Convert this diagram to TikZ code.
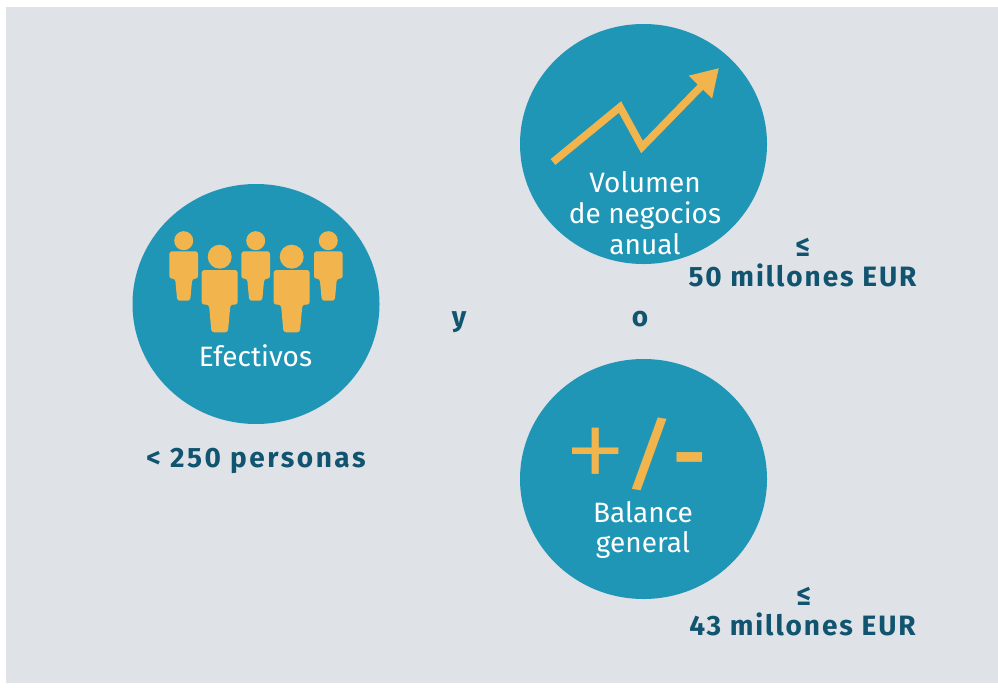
\documentclass[tikz,border=0pt]{standalone}
\usepackage{fontspec}
\setmainfont{Fira Sans}
\newfontfamily\signfont{Fira Sans Light}
\usetikzlibrary{arrows.meta}
\usetikzlibrary{shapes.geometric}
\definecolor{panelgrey}{RGB}{223,226,231}
\definecolor{discblue}{RGB}{32,150,182}
\definecolor{iconorange}{RGB}{242,181,77}
\definecolor{figuredark}{RGB}{17,84,111}
\tikzset{
	disc/.style={shape=ellipse,fill=discblue,minimum width=185.25pt,minimum height=180pt,inner sep=0pt},
	disctext/.style={text=white,font=\fontsize{21}{24}\selectfont,inner sep=0pt,anchor=base},
	figure/.style={text=figuredark,font=\fontsize{21}{24}\selectfont\bfseries\addfontfeatures{LetterSpace=7},inner sep=0pt,anchor=base},
	signtext/.style={text=iconorange,inner sep=0pt,anchor=base}
}
\newcommand{\drawperson}[2]{
	\begin{scope}[shift={#1},scale=#2]
		\fill[iconorange] (0,0) circle[radius=9.5];
		\fill[iconorange,rounded corners=2pt] (-14.3,10.6) -- (14.3,10.6) -- (14.3,38) -- (8.5,38) -- (6.5,60) -- (-6.5,60) -- (-8.5,38) -- (-14.3,38) -- cycle;
	\end{scope}
}
\begin{document}
\begin{tikzpicture}[x=0.75pt,y=-0.75pt]
	\useasboundingbox (0,0) rectangle (998,689);
	\fill[panelgrey] (6,7) rectangle (998,683);
	\node (staff) [disc] at (256,304) {};
	\node (turnover) [disc] at (643.5,144) {};
	\node (balance) [disc] at (643.5,479) {};
	% people
	\drawperson{(183.7,240.7)}{1}
	\drawperson{(255.7,240.7)}{1}
	\drawperson{(328.3,240.7)}{1}
	\drawperson{(219.7,256.7)}{1.26}
	\drawperson{(291.7,256.7)}{1.26}
	% rising line
	\draw[iconorange,line width=5.6pt,-{Triangle[length=20pt,width=23pt]}] (553,162) -- (620,107) -- (642,147) -- (719,68);
	% plus, slash, minus
	\node (plussign) [signtext,font=\signfont\fontsize{98}{98}\selectfont] at (596,494) {+};
	\node (slashsign) [signtext,font=\fontsize{60}{60}\selectfont,xscale=1.4] at (650,482) {/};
	\node (minussign) [signtext,font=\fontsize{60}{60}\bfseries\selectfont] at (690,482) {-};
	\node (stafflabel) [disctext] at (255.5,366) {Efectivos};
	\node (turnoverlabela) [disctext] at (645,192) {Volumen};
	\node (turnoverlabelb) [disctext] at (645,223) {de negocios};
	\node (turnoverlabelc) [disctext] at (645,254) {anual};
	\node (balancelabela) [disctext] at (643,522) {Balance};
	\node (balancelabelb) [disctext] at (643,552) {general};
	\node (stafffigure) [figure,font=\fontsize{21}{24}\selectfont\bfseries\addfontfeatures{LetterSpace=9}] at (256,467) {< 250 personas};
	\node (turnoverle) [figure] at (803,256) {≤};
	\node (turnoverfigure) [figure] at (802.5,286) {50 millones EUR};
	\node (balancele) [figure] at (804,605) {≤};
	\node (balancefigure) [figure] at (802.5,635) {43 millones EUR};
	\node (andword) [figure] at (459,326) {y};
	\node (orword) [figure] at (640,326) {o};
\end{tikzpicture}
\end{document}
